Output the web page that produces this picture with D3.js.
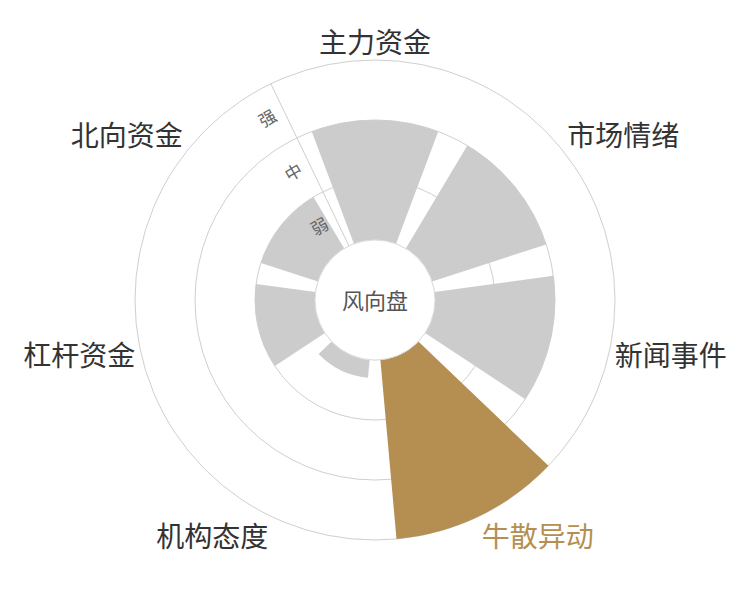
<!DOCTYPE html>
<html>
<head>
<meta charset="utf-8">
<script src="https://cdn.jsdelivr.net/npm/d3@7"></script>
<style>
  body { margin: 0; background: #fff; }
  svg text { font-family: "Noto Sans CJK SC", "Noto Sans", sans-serif; }
</style>
</head>
<body>
<div id="chart"></div>
<script>
// categories clockwise from the top
var categories = ["主力资金", "市场情绪", "新闻事件", "牛散异动", "机构态度", "杠杆资金", "北向资金"];
// strength 0..3 (弱 / 中 / 强)
var values = [2, 2, 2, 3, 0.3, 1, 1];
var levels = ["弱", "中", "强"];
var highlight = "牛散异动";
var centerText = "风向盘";

var width = 750, height = 600;
var cx = 375, cy = 300;
var innerR = 60, outerR = 240;
var grey = "#cccccc", gold = "#b58f52", gridColor = "#cfcfcf";

var svg = d3.select("#chart").append("svg")
  .attr("width", width)
  .attr("height", height);

var g = svg.append("g").attr("transform", "translate(" + cx + "," + cy + ")");

// angle: band per category, first one centred at top
var step = 2 * Math.PI / categories.length;
var x = d3.scaleBand()
  .domain(categories)
  .range([-step / 2, 2 * Math.PI - step / 2])
  .paddingInner(0.2)
  .paddingOuter(0.1);

var y = d3.scaleLinear().domain([0, levels.length]).range([innerR, outerR]);

// grid circles
g.selectAll("circle.grid")
  .data(d3.range(0, levels.length + 1))
  .enter().append("circle")
  .attr("class", "grid")
  .attr("r", function(d) { return y(d); })
  .attr("fill", "none")
  .attr("stroke", gridColor)
  .attr("stroke-width", 1);

// radial axis on the boundary between the last and first category
var axisAngle = -step / 2;
g.append("line")
  .attr("x1", Math.sin(axisAngle) * innerR)
  .attr("y1", -Math.cos(axisAngle) * innerR)
  .attr("x2", Math.sin(axisAngle) * outerR)
  .attr("y2", -Math.cos(axisAngle) * outerR)
  .attr("stroke", gridColor)
  .attr("stroke-width", 1);

// bars
var arc = d3.arc()
  .innerRadius(innerR)
  .outerRadius(function(d) { return y(d.value); })
  .startAngle(function(d) { return x(d.name); })
  .endAngle(function(d) { return x(d.name) + x.bandwidth(); });

var data = categories.map(function(c, i) { return { name: c, value: values[i] }; });

g.selectAll("path.bar")
  .data(data)
  .enter().append("path")
  .attr("class", "bar")
  .attr("d", arc)
  .attr("fill", function(d) { return d.name === highlight ? gold : grey; });

// centre disc
g.append("circle")
  .attr("r", innerR)
  .attr("fill", "#fff")
  .attr("stroke", "#dddddd")
  .attr("stroke-width", 1);

g.append("text")
  .attr("x", 0)
  .attr("y", 9)
  .attr("text-anchor", "middle")
  .style("font-size", "22px")
  .style("fill", "#555")
  .text(centerText);

// level labels beside the radial axis
var off = 18;
g.selectAll("text.level")
  .data(levels)
  .enter().append("text")
  .attr("class", "level")
  .attr("transform", function(d, i) {
    var r = y(i + 0.5);
    var px = Math.sin(axisAngle) * r - Math.cos(axisAngle) * off;
    var py = -Math.cos(axisAngle) * r - Math.sin(axisAngle) * off;
    return "translate(" + px + "," + py + ") rotate(-30)";
  })
  .attr("text-anchor", "middle")
  .attr("dy", "0.35em")
  .style("font-size", "17px")
  .style("fill", "#666")
  .text(function(d) { return d; });

// category labels
var labelR = outerR + 6;
g.selectAll("text.cat")
  .data(data)
  .enter().append("text")
  .attr("class", "cat")
  .attr("x", function(d) {
    var a = x(d.name) + x.bandwidth() / 2;
    return Math.sin(a) * labelR;
  })
  .attr("y", function(d) {
    var a = x(d.name) + x.bandwidth() / 2;
    var c = Math.cos(a), py = -c * labelR;
    if (c > 0.3) return py - 1;
    if (c < -0.3) return py + 25;
    return py + 11;
  })
  .attr("text-anchor", function(d) {
    var s = Math.sin(x(d.name) + x.bandwidth() / 2);
    if (Math.abs(s) < 0.05) return "middle";
    return s > 0 ? "start" : "end";
  })
  .style("font-size", "28px")
  .style("fill", function(d) { return d.name === highlight ? gold : "#333"; })
  .text(function(d) { return d.name; });
</script>
</body>
</html>
